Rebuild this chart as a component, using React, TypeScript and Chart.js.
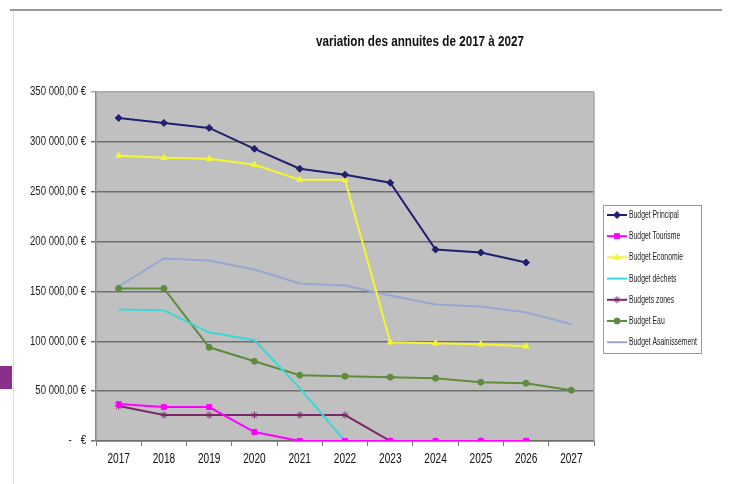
import React, { useEffect, useRef } from "react";
import { Chart, registerables } from "chart.js";
import { drawPoint } from "chart.js/helpers";

Chart.register(...registerables);

const years = ["2017", "2018", "2019", "2020", "2021", "2022", "2023", "2024", "2025", "2026", "2027"];
const principal = [324000, 319000, 314000, 293000, 273000, 267000, 259000, 192000, 189000, 179000, null];
const tourisme = [37000, 34000, 34000, 9000, 0, 0, 0, 0, 0, 0, null];
const economie = [286000, 284000, 283000, 277000, 262000, 262000, 99000, 98000, 97000, 95000, null];
const dechets = [132000, 131000, 109000, 101000, 53000, 0, 0, null, null, null, null];
const zones = [35000, 26000, 26000, 26000, 26000, 26000, 0, 0, 0, 0, null];
const eau = [153000, 153000, 94000, 80000, 66000, 65000, 64000, 63000, 59000, 58000, 51000];
const assainissement = [155000, 183000, 181000, 172000, 158000, 156000, 146000, 137000, 135000, 129000, 117000];
const seriesNames = [
  "Budget Principal",
  "Budget Tourisme",
  "Budget Economie",
  "Budget déchets",
  "Budgets zones",
  "Budget Eau",
  "Budget Asainissement",
];
const titleText = "variation des annuites de 2017 à 2027";

const SANS = '"Liberation Sans", Arial, sans-serif';

function fmt(v: number): string {
  return String(v).replace(/\B(?=(\d{3})+(?!\d))/g, " ") + ",00 €";
}

function narrowText(ctx: any, text: string, x: number, y: number, sx: number, align: "left" | "right" | "center") {
  ctx.save();
  ctx.translate(x, y);
  ctx.scale(sx, 1);
  ctx.textAlign = align;
  ctx.fillText(text, 0, 0);
  ctx.restore();
}

export default function App() {
  const ref = useRef<HTMLCanvasElement | null>(null);
  useEffect(() => {
    document.body.style.margin = "0";
    const canvas = ref.current!;
    const styles = [
      { color: "#20206e", style: "rectRot", r: 3.5 },
      { color: "#ff00ff", style: "rect", r: 3.5 },
      { color: "#f6f630", style: "triangle", r: 3.5 },
      { color: "#3ad8d8", style: "circle", r: 0 },
      { color: "#7a2868", style: "star", r: 3.5 },
      { color: "#5e8c3e", style: "circle", r: 3 },
      { color: "#98a6d2", style: "circle", r: 0 },
    ];
    const dataArrs = [principal, tourisme, economie, dechets, zones, eau, assainissement];

    const decor = {
      id: "decor",
      beforeDraw(chart: any) {
        const ctx = chart.ctx;
        const a = chart.chartArea;
        ctx.save();
        ctx.fillStyle = "#ffffff";
        ctx.fillRect(0, 0, chart.width, chart.height);
        // top rule
        ctx.strokeStyle = "#9a9a9a";
        ctx.lineWidth = 2;
        ctx.beginPath();
        ctx.moveTo(10, 10);
        ctx.lineTo(722, 10);
        ctx.stroke();
        // left light rule
        ctx.strokeStyle = "#e2e2e2";
        ctx.lineWidth = 1;
        ctx.beginPath();
        ctx.moveTo(13.5, 11);
        ctx.lineTo(13.5, 484);
        ctx.stroke();
        // purple square
        ctx.fillStyle = "#8a2f8c";
        ctx.fillRect(0, 366, 12, 23);
        // plot background
        ctx.fillStyle = "#c0c0c0";
        ctx.fillRect(a.left, a.top, a.right - a.left, a.bottom - a.top);
        // title
        ctx.fillStyle = "#111111";
        ctx.font = "bold 15px " + SANS;
        ctx.textBaseline = "middle";
        const tw = ctx.measureText(titleText).width;
        narrowText(ctx, titleText, 420, 42, 208 / tw, "center");
        ctx.restore();
      },
      afterDraw(chart: any) {
        const ctx = chart.ctx;
        const a = chart.chartArea;
        ctx.save();
        // right edge of plot
        ctx.strokeStyle = "#a8a8a8";
        ctx.lineWidth = 1.5;
        ctx.beginPath();
        ctx.moveTo(a.right, a.top);
        ctx.lineTo(a.right, a.bottom);
        ctx.stroke();

        // y tick labels
        const ys = chart.scales.y;
        ctx.fillStyle = "#222222";
        ctx.font = "12px " + SANS;
        ctx.textBaseline = "middle";
        for (const t of ys.ticks) {
          const y = ys.getPixelForValue(t.value);
          if (t.value === 0) {
            narrowText(ctx, "-", 70, y, 0.8, "center");
            narrowText(ctx, "€", 86, y, 0.8, "right");
          } else {
            narrowText(ctx, fmt(t.value), 86, y, 0.8, "right");
          }
        }
        // x tick labels
        const xs = chart.scales.x;
        ctx.fillStyle = "#111111";
        ctx.font = "14px " + SANS;
        for (let i = 0; i < years.length; i++) {
          const x = xs.getPixelForTick(i);
          narrowText(ctx, years[i], x, 459, 0.72, "center");
        }

        // legend
        const lx = 603, ly = 205, lw = 98, lh = 148;
        ctx.fillStyle = "#ffffff";
        ctx.fillRect(lx, ly, lw, lh);
        ctx.strokeStyle = "#9a9a9a";
        ctx.lineWidth = 1;
        ctx.strokeRect(lx + 0.5, ly + 0.5, lw, lh);
        ctx.font = "11px " + SANS;
        ctx.textBaseline = "middle";
        const longest = ctx.measureText(seriesNames[6]).width;
        const lsx = 68 / longest;
        for (let i = 0; i < seriesNames.length; i++) {
          const y = 215 + i * 21.2;
          const s = styles[i];
          ctx.strokeStyle = s.color;
          ctx.lineWidth = 2;
          ctx.beginPath();
          ctx.moveTo(607, y);
          ctx.lineTo(627, y);
          ctx.stroke();
          if (s.r > 0) {
            ctx.fillStyle = s.color;
            ctx.strokeStyle = s.color;
            ctx.lineWidth = 1;
            drawPoint(ctx, { pointStyle: s.style as any, radius: s.r, rotation: 0, borderWidth: 1 } as any, 617, y);
          }
          ctx.fillStyle = "#222222";
          narrowText(ctx, seriesNames[i], 629, y, lsx, "left");
        }
        ctx.restore();
      },
    };

    const chart = new Chart(canvas, {
      type: "line",
      data: {
        labels: years,
        datasets: dataArrs.map((d, i) => ({
          label: seriesNames[i],
          data: d as any,
          borderColor: styles[i].color,
          backgroundColor: styles[i].color,
          pointBackgroundColor: styles[i].color,
          pointBorderColor: styles[i].color,
          pointStyle: styles[i].style as any,
          pointRadius: styles[i].r,
          pointBorderWidth: 1,
          borderWidth: 2,
          tension: 0,
          spanGaps: false,
        })),
      },
      options: {
        responsive: false,
        animation: false,
        layout: { padding: { left: 0, top: 92, right: 135, bottom: 0 } },
        plugins: {
          legend: { display: false },
          title: { display: false },
          tooltip: { enabled: false },
        },
        scales: {
          x: {
            offset: true,
            grid: {
              display: true,
              drawOnChartArea: false,
              drawTicks: true,
              tickLength: 5,
              offset: true,
              color: "#777777",
              lineWidth: 1,
            },
            border: { display: true, color: "#6e6e6e", width: 1.5 },
            ticks: {
              color: "rgba(0,0,0,0)",
              font: { family: SANS, size: 12 },
              padding: 6,
              maxRotation: 0,
              autoSkip: false,
            },
            afterFit(scale: any) {
              scale.height = 43;
            },
          },
          y: {
            min: 0,
            max: 350000,
            ticks: {
              stepSize: 50000,
              color: "rgba(0,0,0,0)",
              font: { family: SANS, size: 10 },
              padding: 4,
              callback: (v: any) => fmt(Number(v)),
            },
            grid: {
              color: (c: any) => (c.tick && c.tick.value === 350000 ? "#a6a6a6" : "#6e6e6e"),
              lineWidth: 1.5,
              tickLength: 5,
            },
            border: { display: true, color: "#8a8a8a", width: 1.5 },
            afterFit(scale: any) {
              scale.width = 96;
            },
          },
        },
      },
      plugins: [decor],
    });
    return () => chart.destroy();
  }, []);
  return <canvas ref={ref} width={729} height={484} style={{ display: "block" }} />;
}
